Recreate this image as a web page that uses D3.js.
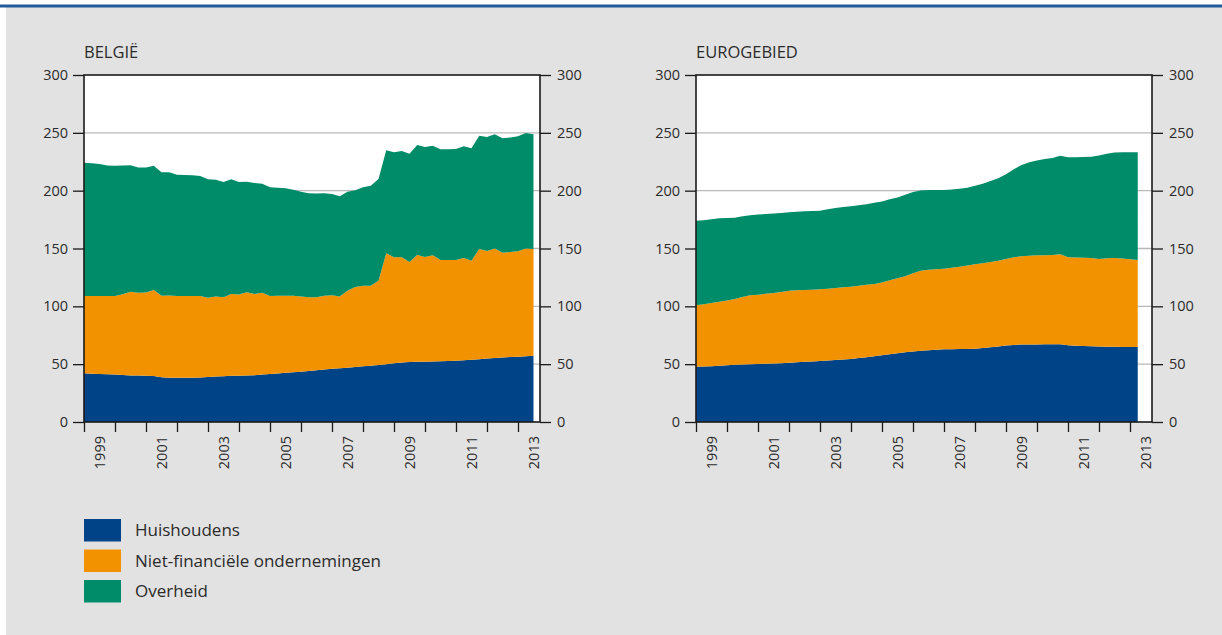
<!DOCTYPE html>
<html>
<head>
<meta charset="utf-8">
<script src="https://cdn.jsdelivr.net/npm/d3@7"></script>
<style>
  html, body { margin: 0; padding: 0; background: #ffffff; }
  svg { display: block; }
  text { font-family: "Open Sans", "Noto Sans", sans-serif; fill: #2b2b2b; }
</style>
</head>
<body>
<svg id="chart" width="1222" height="635"></svg>
<script>
// Quarterly debt ratios (% of GDP), 1999 Q1 onwards
const sectors = ["Huishoudens", "Niet-financiële ondernemingen", "Overheid"];
const sectorKeys = ["hh", "nfc", "gov"];
const sectorColors = ["#004487", "#f29200", "#008c69"];

const startYear = 1999;

// België: 1999 Q1 – 2013 Q3
const beHouseholds = [42.1, 41.8, 41.5, 41.2, 41.0, 40.6, 40.3, 40.1, 40.0, 39.8,
  38.6, 38.3, 38.3, 38.3, 38.3, 38.5, 38.8, 39.3, 39.6, 40.0,
  40.0, 40.2, 40.5, 41.0, 41.5, 42.0, 42.5, 43.0, 43.5, 44.2,
  44.8, 45.4, 46.0, 46.5, 47.0, 47.6, 48.2, 48.7, 49.2, 50.0,
  50.8, 51.5, 51.9, 52.0, 52.1, 52.3, 52.5, 52.7, 52.9, 53.3,
  53.9, 54.3, 54.8, 55.3, 55.8, 56.1, 56.5, 56.9, 57.3];
const beCorporations = [66.8, 67.1, 67.5, 67.7, 67.9, 69.9, 72.4, 71.7, 72.0, 74.3,
  70.6, 71.0, 70.7, 70.7, 70.7, 70.5, 68.7, 69.3, 68.2, 70.7,
  70.2, 71.9, 70.2, 70.8, 67.4, 67.1, 66.7, 66.2, 65.0, 63.6,
  63.0, 63.8, 63.5, 62.1, 66.5, 69.1, 69.6, 69.1, 73.0, 95.8,
  91.6, 90.9, 86.4, 92.4, 90.5, 91.8, 87.6, 87.4, 87.2, 88.5,
  85.6, 95.3, 93.0, 94.8, 90.6, 90.9, 91.1, 93.2, 92.3];
const beGovernment = [115.3, 114.7, 114.0, 112.9, 112.7, 111.3, 109.3, 108.2, 108.0, 107.5,
  106.7, 106.6, 104.8, 104.5, 104.3, 103.7, 102.3, 100.9, 99.7, 99.1,
  97.3, 95.7, 95.9, 94.2, 94.0, 93.4, 92.8, 91.6, 90.5, 90.0,
  89.7, 88.5, 87.6, 86.5, 85.6, 83.6, 85.2, 86.5, 87.8, 89.1,
  90.8, 91.9, 93.7, 95.1, 95.1, 94.8, 95.7, 95.8, 95.9, 96.5,
  97.1, 97.9, 98.6, 98.6, 98.9, 99.0, 99.4, 99.8, 99.1];

// Eurogebied: 1999 Q1 – 2013 Q2
const euHouseholds = [47.8, 48.0, 48.3, 48.6, 49.0, 49.5, 49.8, 50.0, 50.2, 50.4,
  50.6, 50.9, 51.3, 51.6, 52.0, 52.4, 52.8, 53.2, 53.6, 54.0,
  54.5, 55.3, 56.0, 56.9, 57.7, 58.5, 59.5, 60.3, 61.0, 61.6,
  62.1, 62.5, 62.8, 63.0, 63.1, 63.2, 63.4, 63.9, 64.6, 65.2,
  66.2, 66.6, 66.9, 67.0, 67.1, 67.2, 67.2, 67.2, 66.3, 66.0,
  65.7, 65.4, 65.3, 65.1, 65.0, 64.9, 64.9, 64.8];
const euCorporations = [53.2, 53.8, 54.5, 55.4, 56.0, 56.8, 58.2, 59.5, 59.9, 60.5,
  61.0, 61.4, 62.1, 62.3, 62.2, 62.0, 61.9, 62.1, 62.3, 62.5,
  62.5, 62.6, 62.7, 62.5, 62.8, 64.0, 64.8, 65.7, 67.5, 69.2,
  69.5, 69.6, 69.8, 70.3, 71.2, 72.1, 72.9, 73.4, 73.8, 74.2,
  74.8, 75.9, 76.4, 76.8, 77.0, 76.9, 77.1, 77.8, 76.1, 76.2,
  76.3, 76.3, 75.7, 76.4, 76.8, 76.4, 75.8, 75.3];
const euGovernment = [72.9, 72.7, 72.5, 72.2, 71.4, 70.3, 69.8, 69.2, 69.2, 68.9,
  68.6, 68.4, 67.9, 67.9, 67.9, 68.0, 68.0, 68.7, 69.1, 69.4,
  69.6, 69.4, 69.5, 70.1, 70.1, 70.0, 69.7, 70.5, 70.3, 69.4,
  69.0, 68.5, 68.0, 67.7, 67.3, 67.3, 67.9, 68.7, 69.9, 71.3,
  73.2, 76.0, 78.9, 80.8, 82.0, 83.2, 83.9, 85.1, 86.4, 86.7,
  87.1, 87.7, 89.5, 90.4, 91.2, 92.0, 92.6, 93.1];

const yTicks = [0, 50, 100, 150, 200, 250, 300];
const yearTicks = d3.range(1999, 2014);
const yearLabels = [1999, 2001, 2003, 2005, 2007, 2009, 2011, 2013];

const panels = [
  { title: "BELGIË", left: 84, series: [beHouseholds, beCorporations, beGovernment] },
  { title: "EUROGEBIED", left: 696, series: [euHouseholds, euCorporations, euGovernment] }
];

const svg = d3.select("#chart");
const W = 1222, H = 635;

// page frame: grey panel under a blue rule
svg.append("rect").attr("x", 0).attr("y", 0).attr("width", W).attr("height", H).attr("fill", "#ffffff");
svg.append("rect").attr("x", 6).attr("y", 7).attr("width", W - 6).attr("height", H - 7).attr("fill", "#e2e2e2");
svg.append("rect").attr("x", 0).attr("y", 4.5).attr("width", W).attr("height", 3).attr("fill", "#235a9a");

const plotTop = 75, plotH = 347, plotW = 456;

panels.forEach(p => {
  const g = svg.append("g").attr("transform", `translate(${p.left},${plotTop})`);

  const x = d3.scaleLinear().domain([1999, 2013.71]).range([0, plotW]);
  const y = d3.scaleLinear().domain([0, 300]).range([plotH, 0]);

  const rows = p.series[0].map((_, i) => {
    const r = { t: startYear + i / 4 };
    sectorKeys.forEach((k, j) => r[k] = p.series[j][i]);
    return r;
  });
  const stacked = d3.stack().keys(sectorKeys)(rows);

  // plot background
  g.append("rect").attr("width", plotW).attr("height", plotH).attr("fill", "#ffffff");

  // horizontal gridlines
  g.selectAll("line.grid").data(yTicks.filter(v => v > 0 && v < 300)).join("line")
    .attr("class", "grid")
    .attr("x1", 0).attr("x2", plotW)
    .attr("y1", d => y(d)).attr("y2", d => y(d))
    .attr("stroke", "#b9b9b9").attr("stroke-width", 1.3);

  // stacked areas
  const area = d3.area()
    .x(d => x(d.data.t))
    .y0(d => y(d[0]))
    .y1(d => y(d[1]));
  g.selectAll("path.layer").data(stacked).join("path")
    .attr("class", "layer")
    .attr("d", area)
    .attr("fill", (d, i) => sectorColors[i]);

  // left and right value axes
  const axisStyle = sel => {
    sel.select(".domain").remove();
    sel.selectAll(".tick line").attr("stroke", "#1a1a1a").attr("stroke-width", 1.3);
    sel.selectAll(".tick text").style("font-size", "14.5px").attr("fill", "#2b2b2b");
  };
  g.append("g")
    .call(d3.axisLeft(y).tickValues(yTicks).tickSize(11).tickPadding(5))
    .call(axisStyle);
  g.append("g").attr("transform", `translate(${plotW},0)`)
    .call(d3.axisRight(y).tickValues(yTicks).tickSize(11).tickPadding(6))
    .call(axisStyle);

  // year ticks below the plot
  const xa = g.append("g").attr("transform", `translate(0,${plotH})`)
    .call(d3.axisBottom(x).tickValues(yearTicks).tickSize(10).tickFormat(""));
  xa.select(".domain").remove();
  xa.selectAll(".tick line").attr("stroke", "#1a1a1a").attr("stroke-width", 1.3);

  // rotated year labels, centred on each labelled year
  g.selectAll("text.year").data(yearLabels).join("text")
    .attr("class", "year")
    .attr("transform", d => `translate(${x(d + 0.5)},${plotH + 14}) rotate(-90)`)
    .attr("text-anchor", "end")
    .attr("dy", "0.35em")
    .style("font-size", "14.5px")
    .text(d => d);

  // plot frame
  g.append("rect").attr("width", plotW).attr("height", plotH)
    .attr("fill", "none").attr("stroke", "#1a1a1a").attr("stroke-width", 1.6);

  // panel title
  svg.append("text").attr("x", p.left).attr("y", 58)
    .style("font-size", "16.5px").text(p.title);
});

// legend
const legend = svg.append("g").attr("transform", "translate(84,519)");
sectors.forEach((name, i) => {
  const row = legend.append("g").attr("transform", `translate(0,${i * 30.5})`);
  row.append("rect").attr("width", 37).attr("height", 22.5).attr("fill", sectorColors[i]);
  row.append("text").attr("x", 51).attr("y", 11.5).attr("dy", "0.35em")
    .style("font-size", "17px").text(name);
});
</script>
</body>
</html>
